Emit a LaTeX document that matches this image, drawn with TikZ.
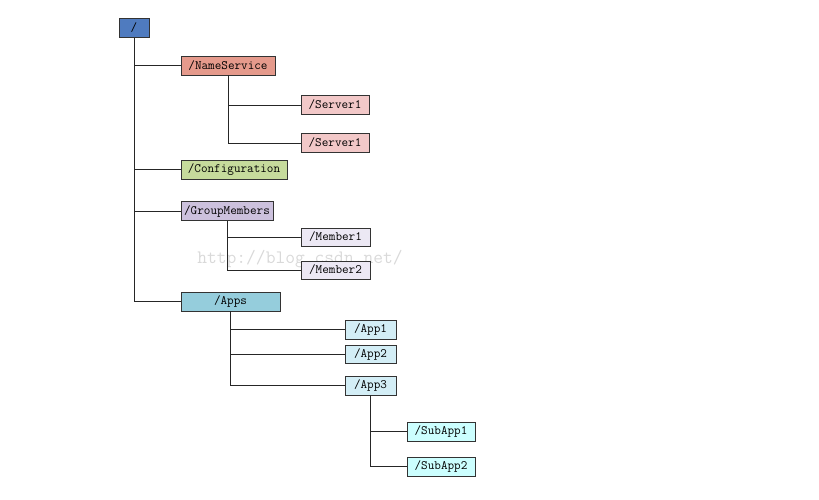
\documentclass[tikz,border=0pt]{standalone}
\usepackage{tikz}

\definecolor{rootblue}{HTML}{4F7BBF}
\definecolor{nssalmon}{HTML}{E59A8C}
\definecolor{srvpink}{HTML}{F2C8C8}
\definecolor{cfggreen}{HTML}{C6DB9C}
\definecolor{gmlilac}{HTML}{CCC1DD}
\definecolor{mbrlilac}{HTML}{ECE8F4}
\definecolor{appsteal}{HTML}{95CDDC}
\definecolor{appcyan}{HTML}{D3EEF6}
\definecolor{subcyan}{HTML}{CCFFFF}

\tikzset{
  znode/.style={draw=black!80, line width=0.9pt, inner sep=0pt, minimum height=19pt,
    font=\fontsize{12.8}{14}\selectfont\ttfamily},
  link/.style={draw=black!85, line width=0.9pt},
}

\begin{document}
\begin{tikzpicture}[x=1pt,y=-1pt]
\useasboundingbox (0,0) rectangle (819,499);

% watermark
\node[text=black!15, font=\fontsize{19}{20}\selectfont\ttfamily] (mark) at (300,259) {http://blog.csdn.net/};

% root and first level
\node[znode, fill=rootblue, minimum width=30pt] (root) at (134,28) {/};
\node[znode, fill=nssalmon, minimum width=94pt] (ns) at (228,65.5) {/NameService};
\node[znode, fill=cfggreen, minimum width=106pt] (cfg) at (234,169.5) {/Configuration};
\node[znode, fill=gmlilac, minimum width=92pt] (gm) at (227,211) {/GroupMembers};
\node[znode, fill=appsteal, minimum width=99pt] (apps) at (230.5,301.5) {/Apps};

% second level
\node[znode, fill=srvpink, minimum width=68pt] (srva) at (335,105) {/Server1};
\node[znode, fill=srvpink, minimum width=68pt] (srvb) at (335,143) {/Server1};
\node[znode, fill=mbrlilac, minimum width=69pt, minimum height=18pt] (mbra) at (335.5,237) {/Member1};
\node[znode, fill=mbrlilac, minimum width=69pt, minimum height=18pt] (mbrb) at (335.5,270) {/Member2};
\node[znode, fill=appcyan, minimum width=51pt] (appa) at (370.5,329.5) {/App1};
\node[znode, fill=appcyan, minimum width=51pt, minimum height=18pt] (appb) at (370.5,354) {/App2};
\node[znode, fill=appcyan, minimum width=51pt] (appc) at (370.5,385.5) {/App3};

% third level
\node[znode, fill=subcyan, minimum width=68pt] (suba) at (441,431.5) {/SubApp1};
\node[znode, fill=subcyan, minimum width=68pt] (subb) at (441,466.5) {/SubApp2};

% connectors
\draw[link] (root.south) -- (root.south |- apps.west);
\foreach \n in {ns,cfg,gm,apps}
  \draw[link] (root.south |- \n.west) -- (\n.west);

\draw[link] (ns.south) -- (ns.south |- srvb.west);
\foreach \n in {srva,srvb}
  \draw[link] (ns.south |- \n.west) -- (\n.west);

\draw[link] (gm.south) -- (gm.south |- mbrb.west);
\foreach \n in {mbra,mbrb}
  \draw[link] (gm.south |- \n.west) -- (\n.west);

\draw[link] (apps.south) -- (apps.south |- appc.west);
\foreach \n in {appa,appb,appc}
  \draw[link] (apps.south |- \n.west) -- (\n.west);

\draw[link] (appc.south) -- (appc.south |- subb.west);
\foreach \n in {suba,subb}
  \draw[link] (appc.south |- \n.west) -- (\n.west);
\end{tikzpicture}
\end{document}
